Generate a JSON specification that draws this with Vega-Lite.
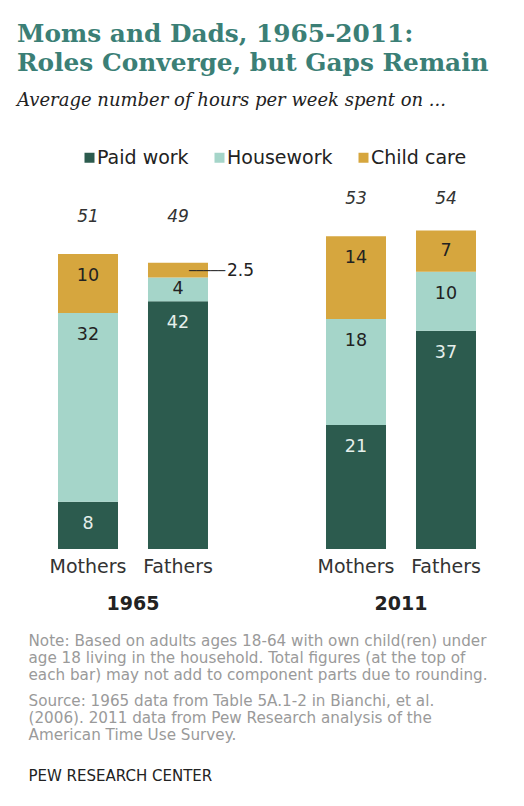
{
  "$schema": "https://vega.github.io/schema/vega-lite/v6.json",
  "autosize": {"type": "none"},
  "width": 448,
  "height": 354,
  "padding": {"left": 43, "top": 195, "right": 33, "bottom": 257},
  "background": "white",
  "config": {"view": {"stroke": null}, "font": "DejaVu Sans"},
  "title": {
    "text": ["Moms and Dads, 1965-2011:", "Roles Converge, but Gaps Remain"],
    "subtitle": "Average number of hours per week spent on ...",
    "anchor": "start",
    "frame": "group",
    "dx": -26,
    "offset": 38,
    "font": "DejaVu Serif",
    "fontSize": 24.8,
    "fontWeight": "bold",
    "color": "#3b7f76",
    "lineHeight": 29,
    "subtitleFont": "DejaVu Serif",
    "subtitleFontStyle": "italic",
    "subtitleFontSize": 18,
    "subtitleColor": "#222222",
    "subtitlePadding": 16
  },
  "datasets": {
    "segments": [
      {"year": "1965", "parent": "Mothers", "activity": "Paid work", "hours": 8, "ord": 1},
      {"year": "1965", "parent": "Mothers", "activity": "Housework", "hours": 32, "ord": 2},
      {"year": "1965", "parent": "Mothers", "activity": "Child care", "hours": 10, "ord": 3},
      {"year": "1965", "parent": "Fathers", "activity": "Paid work", "hours": 42, "ord": 1},
      {"year": "1965", "parent": "Fathers", "activity": "Housework", "hours": 4, "ord": 2},
      {"year": "1965", "parent": "Fathers", "activity": "Child care", "hours": 2.5, "ord": 3},
      {"year": "2011", "parent": "Mothers", "activity": "Paid work", "hours": 21, "ord": 1},
      {"year": "2011", "parent": "Mothers", "activity": "Housework", "hours": 18, "ord": 2},
      {"year": "2011", "parent": "Mothers", "activity": "Child care", "hours": 14, "ord": 3},
      {"year": "2011", "parent": "Fathers", "activity": "Paid work", "hours": 37, "ord": 1},
      {"year": "2011", "parent": "Fathers", "activity": "Housework", "hours": 10, "ord": 2},
      {"year": "2011", "parent": "Fathers", "activity": "Child care", "hours": 7, "ord": 3}
    ],
    "totals": [
      {"year": "1965", "parent": "Mothers", "total": 51},
      {"year": "1965", "parent": "Fathers", "total": 49},
      {"year": "2011", "parent": "Mothers", "total": 53},
      {"year": "2011", "parent": "Fathers", "total": 54}
    ]
  },
  "resolve": {"axis": {"y": "independent"}},
  "layer": [
    {
      "data": {"name": "segments"},
      "transform": [
        {"stack": "hours", "groupby": ["year", "parent"], "sort": [{"field": "ord"}], "as": ["y0", "y1"]}
      ],
      "mark": "bar",
      "encoding": {
        "x": {
          "field": "year", "type": "nominal",
          "scale": {"paddingInner": 0.3284, "paddingOuter": 0},
          "axis": {
            "orient": "bottom", "domain": false, "ticks": false, "labelAngle": 0,
            "labelFont": "DejaVu Sans", "labelFontSize": 19, "labelFontWeight": "bold",
            "labelColor": "#222222", "labelPadding": 45,
            "title": ["Note: Based on adults ages 18-64 with own  child(ren) under", "age 18 living in the household. Total figures (at the top of", "each bar) may not add to component parts due to rounding."],
            "titleFont": "DejaVu Sans", "titleFontSize": 15.2, "titleFontWeight": "normal",
            "titleColor": "#9a9a9a", "titleAngle": 0, "titleAlign": "left", "titleBaseline": "top",
            "titleX": -15, "titleY": 84, "titleLineHeight": 17
          }
        },
        "xOffset": {
          "field": "parent", "type": "nominal", "sort": ["Mothers", "Fathers"],
          "scale": {"paddingInner": 0.3333, "paddingOuter": 0.1667}
        },
        "y": {
          "field": "y1", "type": "quantitative",
          "scale": {"domain": [0, 60], "nice": false},
          "axis": {
            "orient": "left", "domain": false, "ticks": false, "labels": false, "grid": false,
            "title": ["Source: 1965 data from Table 5A.1-2  in Bianchi, et al.", "(2006). 2011 data from Pew Research analysis of the", "American Time Use Survey."],
            "titleFont": "DejaVu Sans", "titleFontSize": 15.2, "titleFontWeight": "normal",
            "titleColor": "#9a9a9a", "titleAngle": 0, "titleAlign": "left", "titleBaseline": "top",
            "titleX": -15, "titleY": 498, "titleLineHeight": 17
          }
        },
        "y2": {"field": "y0"},
        "color": {
          "field": "activity", "type": "nominal",
          "scale": {"domain": ["Paid work", "Housework", "Child care"], "range": ["#2c5b4e", "#a5d5c9", "#d6a63e"]},
          "legend": {
            "orient": "none", "direction": "horizontal", "legendX": 37, "legendY": -47,
            "title": null, "symbolType": "square", "symbolSize": 100, "symbolStrokeWidth": 0,
            "labelFont": "DejaVu Sans", "labelFontSize": 19, "labelColor": "#222222",
            "labelOffset": -2, "columnPadding": 21
          }
        }
      }
    },
    {
      "data": {"name": "segments"},
      "transform": [
        {"stack": "hours", "groupby": ["year", "parent"], "sort": [{"field": "ord"}], "as": ["y0", "y1"]},
        {"filter": "datum.hours >= 3"},
        {"calculate": "max(datum.y1 - 3.73, (datum.y0 + datum.y1) / 2)", "as": "labelY"}
      ],
      "mark": {"type": "text", "font": "DejaVu Sans", "fontSize": 17.5, "baseline": "middle"},
      "encoding": {
        "x": {"field": "year", "type": "nominal"},
        "xOffset": {"field": "parent", "type": "nominal", "sort": ["Mothers", "Fathers"]},
        "y": {"field": "labelY", "type": "quantitative", "axis": null},
        "text": {"field": "hours"},
        "color": {"condition": {"test": "datum.activity === 'Paid work'", "value": "#e6efeb"}, "value": "#222222"}
      }
    },
    {
      "data": {"name": "totals"},
      "transform": [
        {"joinaggregate": [{"op": "max", "field": "total", "as": "ymax"}], "groupby": ["year"]}
      ],
      "mark": {"type": "text", "font": "DejaVu Sans", "fontSize": 17, "fontStyle": "italic", "baseline": "middle", "dy": -31, "color": "#333333"},
      "encoding": {
        "x": {"field": "year", "type": "nominal"},
        "xOffset": {"field": "parent", "type": "nominal", "sort": ["Mothers", "Fathers"]},
        "y": {
          "field": "ymax", "type": "quantitative",
          "axis": {
            "orient": "right", "domain": false, "ticks": false, "labels": false, "grid": false,
            "title": "PEW RESEARCH  CENTER",
            "titleFont": "DejaVu Sans", "titleFontSize": 15, "titleFontWeight": "normal",
            "titleColor": "#222222", "titleAngle": 0, "titleAlign": "left", "titleBaseline": "top",
            "titleX": -463, "titleY": 573
          }
        },
        "text": {"field": "total"}
      }
    },
    {
      "data": {"name": "totals"},
      "mark": {"type": "text", "font": "DejaVu Sans", "fontSize": 19, "baseline": "middle", "dy": 18, "color": "#333333"},
      "encoding": {
        "x": {"field": "year", "type": "nominal"},
        "xOffset": {"field": "parent", "type": "nominal", "sort": ["Mothers", "Fathers"]},
        "y": {"datum": 0, "type": "quantitative", "axis": null},
        "text": {"field": "parent"}
      }
    },
    {
      "data": {"name": "segments"},
      "transform": [
        {"stack": "hours", "groupby": ["year", "parent"], "sort": [{"field": "ord"}], "as": ["y0", "y1"]},
        {"filter": "datum.hours < 3"},
        {"calculate": "(datum.y0 + datum.y1) / 2", "as": "mid"}
      ],
      "mark": {"type": "text", "font": "DejaVu Sans", "fontSize": 12, "baseline": "middle", "align": "left", "dx": 11, "dy": 1, "color": "#222222"},
      "encoding": {
        "x": {"field": "year", "type": "nominal"},
        "xOffset": {"field": "parent", "type": "nominal", "sort": ["Mothers", "Fathers"]},
        "y": {"field": "mid", "type": "quantitative", "axis": null},
        "text": {"value": "─────"}
      }
    },
    {
      "data": {"name": "segments"},
      "transform": [
        {"stack": "hours", "groupby": ["year", "parent"], "sort": [{"field": "ord"}], "as": ["y0", "y1"]},
        {"filter": "datum.hours < 3"},
        {"calculate": "(datum.y0 + datum.y1) / 2", "as": "mid"}
      ],
      "mark": {"type": "text", "font": "DejaVu Sans", "fontSize": 17, "baseline": "middle", "align": "left", "dx": 49, "dy": 1, "color": "#222222"},
      "encoding": {
        "x": {"field": "year", "type": "nominal"},
        "xOffset": {"field": "parent", "type": "nominal", "sort": ["Mothers", "Fathers"]},
        "y": {"field": "mid", "type": "quantitative", "axis": null},
        "text": {"field": "hours"}
      }
    }
  ]
}
